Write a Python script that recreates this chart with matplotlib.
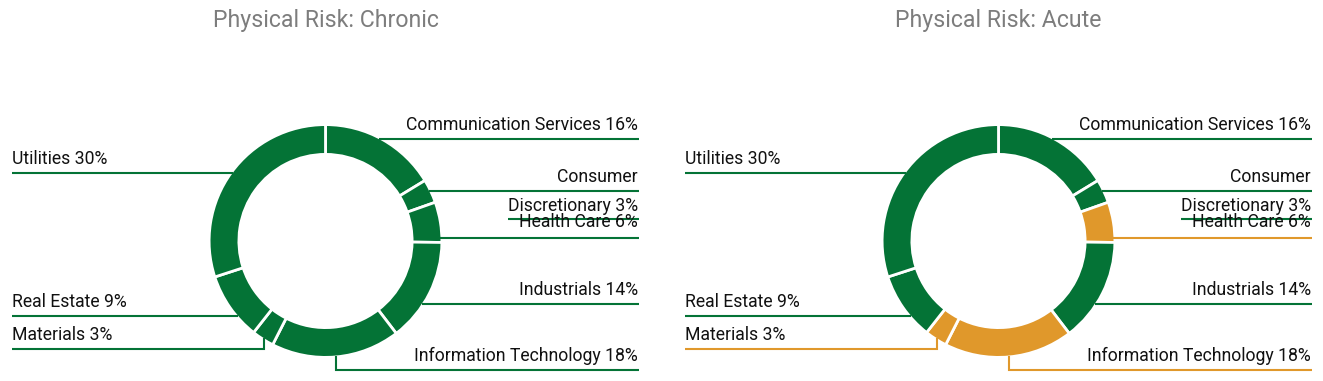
import numpy as np
import matplotlib
matplotlib.use("Agg")
import matplotlib.pyplot as plt

# ---------------- data ----------------
categories = ["Communication Services", "Consumer Discretionary", "Health Care", "Industrials",
              "Information Technology", "Materials", "Real Estate", "Utilities"]
# slice sizes (labels show rounded values)
shares = [16.3, 3.3, 5.6, 14.4, 17.9, 3.1, 9.4, 30.0]
label_pct = [16, 3, 6, 14, 18, 3, 9, 30]
chronic_highlight = [False, False, False, False, False, False, False, False]
acute_highlight = [False, False, True, False, True, True, False, False]
titles = ["Physical Risk: Chronic", "Physical Risk: Acute"]

# ---------------- style / layout ----------------
W, H, DPI = 1323, 381, 100
GREEN = "#047336"
ORANGE = "#e0982b"
TITLE_GREY = "#7d7d7d"
FONT = "Roboto"
LABEL_FS = 12.7
TITLE_FS = 16.7
LINE_LW = 1.5

CX, CY = 325.5, 241.0        # donut centre (image px) of the first panel
PANEL_DX = 673               # horizontal offset of the second panel
R_VIS = 115                  # visible outer radius
RING = 27                    # visible ring width
EDGE_LW = 2.0
edge_px = EDGE_LW * DPI / 72

RIGHT_X = 638                # right edge of right-hand labels
LEFT_X = 12                  # left edge of left-hand labels
# side, underline y (image px), anchor mode
layout = {
    "Communication Services": ("right", 139.0, "h"),
    "Consumer Discretionary": ("right", 190.7, "h"),
    "Health Care": ("right", 238.0, "h"),
    "Industrials": ("right", 304.0, "h"),
    "Information Technology": ("right", 370.0, "v"),
    "Materials": ("left", 349.0, "v"),
    "Real Estate": ("left", 316.0, "h"),
    "Utilities": ("left", 172.7, "h"),
}
BASE_OFF = 8.7


def Y(y):
    return H - y


fig = plt.figure(figsize=(W / DPI, H / DPI), dpi=DPI)
ax = fig.add_axes([0, 0, 1, 1])
ax.set_xlim(0, W)
ax.set_ylim(0, H)

renderer = fig.canvas.get_renderer()

for p, (hl, title) in enumerate(zip([chronic_highlight, acute_highlight], titles)):
    dx = p * PANEL_DX
    cx = CX + dx
    colors = [ORANGE if h else GREEN for h in hl]
    wedges, _ = ax.pie(shares, colors=colors, startangle=90, counterclock=False,
                       center=(cx, Y(CY)), radius=R_VIS + edge_px / 2, frame=True,
                       wedgeprops=dict(width=RING + edge_px, edgecolor="white",
                                       linewidth=EDGE_LW))
    ax.set_xlim(0, W)
    ax.set_ylim(0, H)

    ax.text(cx, Y(26.7), title, ha="center", va="baseline", fontsize=TITLE_FS,
            color=TITLE_GREY, family=FONT)

    for cat, pct, w, col in zip(categories, label_pct, wedges, colors):
        side, ly, mode = layout[cat]
        if side == "right":
            x_end = RIGHT_X + 1 + dx
        else:
            x_end = LEFT_X + dx
        if mode == "h":
            dy = ly - CY
            ddx = np.sqrt(max(R_VIS ** 2 - dy ** 2, 0))
            ax_x = cx + ddx if side == "right" else cx - ddx
            ax.plot([ax_x, x_end], [Y(ly), Y(ly)], color=col, lw=LINE_LW,
                    solid_capstyle="butt")
        else:
            mid = np.deg2rad((w.theta1 + w.theta2) / 2)
            px = cx + R_VIS * np.cos(mid)
            py = Y(CY) + R_VIS * np.sin(mid)
            ax.plot([px, px, x_end], [py, Y(ly), Y(ly)], color=col, lw=LINE_LW,
                    solid_capstyle="butt", solid_joinstyle="miter")

        if cat == "Consumer Discretionary":
            first, second = cat.split(" ")
            ax.text(RIGHT_X + dx, Y(ly - BASE_OFF), first, ha="right", va="baseline",
                    fontsize=LABEL_FS, family=FONT, color="#111111")
            t2 = ax.text(RIGHT_X + dx, Y(211.3), f"{second} {pct}%", ha="right",
                         va="baseline", fontsize=LABEL_FS, family=FONT, color="#111111")
            bb = t2.get_window_extent(renderer=renderer)
            x0 = ax.transData.inverted().transform((bb.x0, bb.y0))[0]
            ax.plot([x0, RIGHT_X + 1 + dx], [Y(219.3), Y(219.3)], color=GREEN,
                    lw=LINE_LW, solid_capstyle="butt", zorder=3)
        else:
            yb = ly - BASE_OFF if cat != "Health Care" else 226.7
            if side == "right":
                ax.text(RIGHT_X + dx, Y(yb), f"{cat} {pct}%", ha="right", va="baseline",
                        fontsize=LABEL_FS, family=FONT, color="#111111")
            else:
                ax.text(LEFT_X + dx, Y(yb), f"{cat} {pct}%", ha="left", va="baseline",
                        fontsize=LABEL_FS, family=FONT, color="#111111")

ax.set_xlim(0, W)
ax.set_ylim(0, H)
ax.set_aspect("equal")
ax.axis("off")

fig.savefig("out.png", dpi=DPI, facecolor="white")
